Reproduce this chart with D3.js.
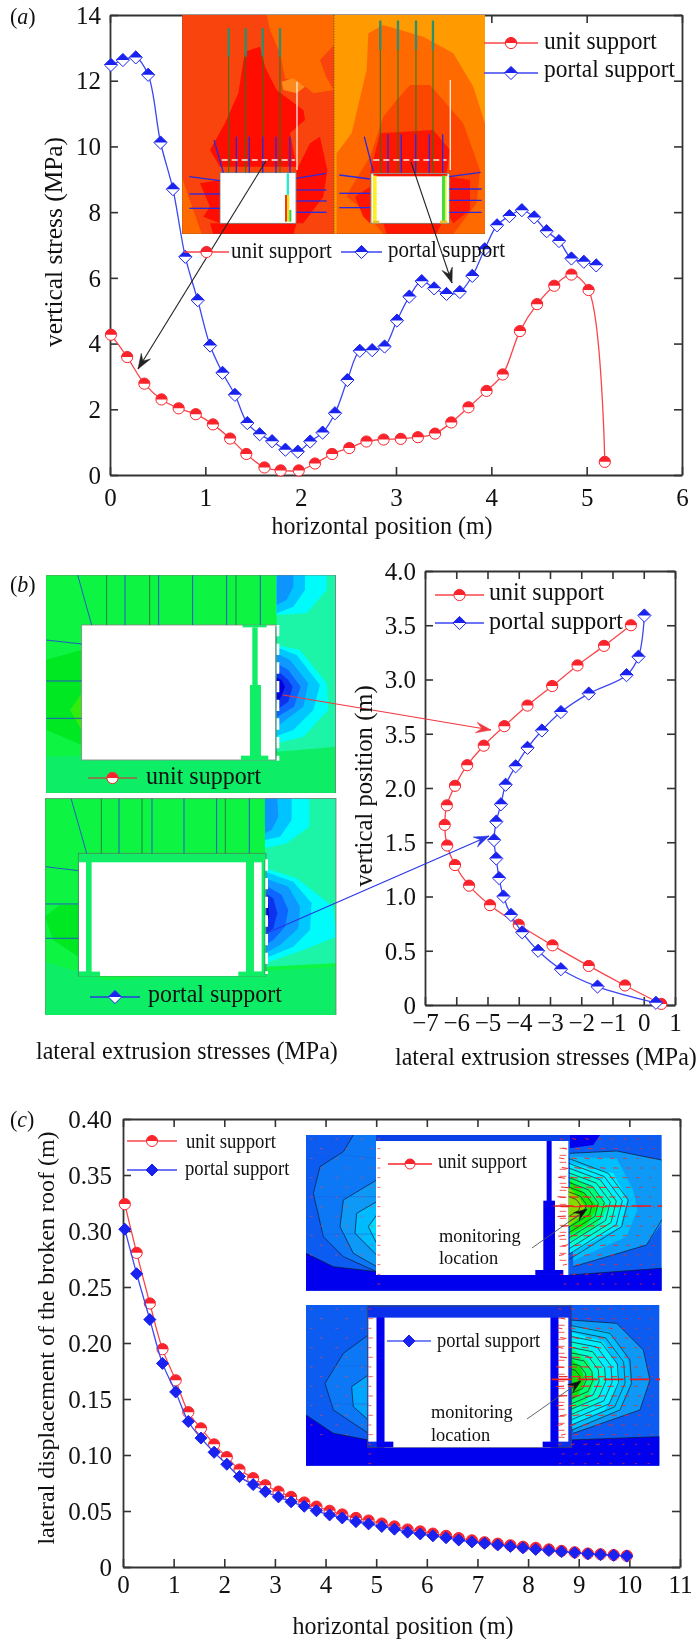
<!DOCTYPE html>
<html><head><meta charset="utf-8">
<script src="https://cdn.jsdelivr.net/npm/d3@7"></script>
<style>html,body{margin:0;padding:0;background:#fff}svg{display:block;filter:blur(0.35px)}text{font-family:"Liberation Serif",serif;fill:#111}</style>
</head><body><svg id="c" width="697" height="1639"></svg>
<script>
// ---------- data ----------
const aUnitX=[0.01,0.18,0.36,0.54,0.72,0.90,1.08,1.26,1.43,1.62,1.79,1.98,2.15,2.33,2.51,2.69,2.87,3.05,3.23,3.41,3.58,3.76,3.95,4.12,4.30,4.48,4.66,4.84,5.02,5.19];
const aUnitY=[4.27,3.59,2.78,2.30,2.03,1.85,1.54,1.11,0.64,0.23,0.14,0.14,0.35,0.64,0.82,1.02,1.08,1.10,1.15,1.26,1.60,2.06,2.56,3.06,4.38,5.20,5.76,6.10,5.63,0.40];
const aPortalX=[0.01,0.135,0.27,0.40,0.53,0.66,0.79,0.92,1.05,1.18,1.31,1.44,1.57,1.70,1.84,1.97,2.10,2.23,2.36,2.49,2.62,2.75,2.88,3.01,3.14,3.27,3.40,3.53,3.67,3.80,3.93,4.06,4.19,4.32,4.45,4.58,4.71,4.84,4.97,5.10];
const aPortalY=[12.48,12.63,12.71,12.18,10.12,8.70,6.64,5.32,3.94,3.11,2.44,1.58,1.24,1.03,0.77,0.71,1.02,1.29,1.88,2.89,3.78,3.80,3.91,4.70,5.43,5.90,5.68,5.51,5.57,6.06,6.87,7.60,7.88,8.06,7.84,7.42,7.12,6.59,6.49,6.38];
const bUnitX=[0.56,-0.60,-1.76,-2.92,-4.0,-4.92,-5.59,-6.04,-6.29,-6.37,-6.30,-6.04,-5.65,-5.12,-4.46,-3.72,-2.93,-2.12,-1.27,-0.41];
const bUnitY=[0.01,0.18,0.36,0.55,0.74,0.92,1.10,1.29,1.47,1.66,1.84,2.02,2.21,2.39,2.57,2.76,2.94,3.13,3.31,3.50];
const bPortalX=[0.39,-1.48,-2.65,-3.38,-3.89,-4.25,-4.49,-4.63,-4.72,-4.79,-4.72,-4.57,-4.42,-4.10,-3.72,-3.26,-2.65,-1.76,-0.55,-0.17,0.02];
const bPortalY=[0.02,0.17,0.33,0.50,0.67,0.83,1.00,1.17,1.35,1.52,1.69,1.85,2.03,2.20,2.37,2.53,2.70,2.87,3.04,3.21,3.59];
const cX=[0.035,0.27,0.53,0.78,1.04,1.29,1.54,1.80,2.05,2.30,2.57,2.81,3.07,3.32,3.58,3.82,4.08,4.33,4.60,4.85,5.11,5.36,5.62,5.87,6.12,6.38,6.63,6.89,7.14,7.40,7.65,7.90,8.15,8.41,8.66,8.92,9.18,9.43,9.69,9.95];
const cUnitY=[.324,.2805,.2353,.1945,.1667,.1382,.1238,.1095,.0981,.0870,.0793,.0730,.0673,.0626,.0576,.0539,.0502,.0469,.0438,.0415,.0388,.0362,.0335,.0318,.0298,.0278,.0258,.0238,.0221,.0208,.0194,.0181,.0171,.0157,.0144,.0131,.0120,.0114,.0107,.0100];
const cPortalY=[.3016,.2618,.2209,.1818,.1563,.1299,.1151,.1024,.0917,.0807,.0736,.0673,.0626,.0582,.0542,.0502,.0465,.0438,.0405,.0385,.0362,.0338,.0311,.0295,.0278,.0261,.0241,.0224,.0211,.0197,.0184,.0171,.0157,.0147,.0137,.0127,.0117,.0110,.0104,.0097];
const seriesNames=["unit support","portal support"];
const aXTicks=[0,1,2,3,4,5,6];
const aYTicks=[0,2,4,6,8,10,12,14];
const bXTicks=[-7,-6,-5,-4,-3,-2,-1,0,1];
const bYTicks=[0,0.5,1,1.5,2,2.5,3,3.5,4];
const bYTickLabels=["0","0.5","1.0","1.5","2.0","3.5","3.0","3.5","4.0"];
const cXTicks=[0,1,2,3,4,5,6,7,8,9,10,11];
const cYTicks=[0,0.05,0.1,0.15,0.2,0.25,0.3,0.35,0.4];
const cYTickLabels=["0","0.05","0.10","0.15","0.20","0.25","0.30","0.35","0.40"];

const RED="#f8232b",BLUE="#1a22f0",REDL="#f9454a",BLUEL="#3c46f2";
const SY=1.08;
const svg=d3.select("#c");
const defs=svg.append("defs");
defs.append("filter").attr("id","soft").attr("x","-5%").attr("y","-5%").attr("width","110%").attr("height","110%")
  .append("feGaussianBlur").attr("stdDeviation",0.9);
function clip(id,x,y,w,h){defs.append("clipPath").attr("id",id).append("rect").attr("x",x).attr("y",y).attr("width",w).attr("height",h);}
const line=d3.line().curve(d3.curveCatmullRom.alpha(0.5));

function T(s,x,y,size,opt={}){
  const t=(opt.g||svg).append("text").attr("x",x).attr("y",y).attr("font-size",size).text(s);
  if(opt.anchor)t.attr("text-anchor",opt.anchor);
  if(opt.rot)t.attr("transform",`rotate(-90 ${x} ${y})`);
  else t.attr("transform",`translate(${x},${y}) scale(1,${SY}) translate(${-x},${-y})`);
  return t;
}
function tag(letter,x,y){
  const t=svg.append("text").attr("x",x).attr("y",y).attr("font-size",22)
    .attr("transform",`translate(${x},${y}) scale(1,${SY}) translate(${-x},${-y})`);
  t.append("tspan").text("(");t.append("tspan").attr("font-style","italic").text(letter);t.append("tspan").text(")");
}
function mark(g,x,y,kind,color,o={}){
  const r=o.r||(kind=="c"?5.6:6.6);
  if(kind=="c"){
    g.append("circle").attr("cx",x).attr("cy",y).attr("r",r).attr("fill",o.bg||"#fff").attr("stroke",color).attr("stroke-width",1);
    g.append("path").attr("transform",`translate(${x},${y})`).attr("fill",color)
      .attr("d",d3.arc()({innerRadius:0,outerRadius:r,startAngle:-Math.PI/2,endAngle:Math.PI/2}));
  }else{
    g.append("path").attr("transform",`translate(${x},${y})`).attr("fill",o.solid?color:(o.bg||"#fff")).attr("stroke",color).attr("stroke-width",1)
      .attr("d",`M0,${-r}L${r},0L0,${r}L${-r},0Z`);
    g.append("path").attr("transform",`translate(${x},${y})`).attr("fill",color).attr("d",`M0,${-r}L${r},0L${-r},0Z`);
  }
}
function legend(g,x1,x2,y,kind,color,label,tx,ty,size,o={}){
  g.append("line").attr("x1",x1).attr("x2",x2).attr("y1",y).attr("y2",y).attr("stroke",o.lc||color).attr("stroke-width",1.3);
  mark(g,(x1+x2)/2,y,kind,color,o);
  T(label,tx,ty,size,{g});
}
function arrow(g,x1,y1,x2,y2,color,w=1.1,head=color,L=15){
  g.append("line").attr("x1",x1).attr("y1",y1).attr("x2",x2).attr("y2",y2).attr("stroke",color).attr("stroke-width",w);
  const a=Math.atan2(y2-y1,x2-x1)*180/Math.PI;
  g.append("path").attr("transform",`translate(${x2},${y2}) rotate(${a})`).attr("fill",head).attr("stroke",head).attr("stroke-width",.5)
    .attr("d",`M0,0L${-L},${-L*.36}L${-L*.62},0L${-L},${L*.36}Z`);
}
function frame(x,y,xTicks,yTicks,xFmt,yFmt,tl,yLabelX,xLabelY){
  const [x0,x1]=x.range(),[y0,y1]=y.range();
  const style=g=>{g.selectAll(".domain").attr("stroke","#333").attr("stroke-width",1.8);
    g.selectAll(".tick line").attr("stroke","#333").attr("stroke-width",1.6);};
  const ax=svg.append("g");
  const B=ax.append("g").attr("transform",`translate(0,${y0})`).call(d3.axisBottom(x).tickValues(xTicks).tickSizeInner(-tl).tickSizeOuter(0).tickFormat(xFmt)).call(style);
  ax.append("g").attr("transform",`translate(0,${y1})`).call(d3.axisTop(x).tickValues(xTicks).tickSizeInner(-tl).tickSizeOuter(0).tickFormat("")).call(style);
  const L=ax.append("g").attr("transform",`translate(${x0},0)`).call(d3.axisLeft(y).tickValues(yTicks).tickSizeInner(-tl).tickSizeOuter(0).tickFormat(yFmt)).call(style);
  ax.append("g").attr("transform",`translate(${x1},0)`).call(d3.axisRight(y).tickValues(yTicks).tickSizeInner(-tl).tickSizeOuter(0).tickFormat("")).call(style);
  B.selectAll("text").attr("y",xLabelY-y0).attr("dy",null).attr("font-size",25).attr("text-anchor","middle");
  L.selectAll("text").attr("x",yLabelX-x0).attr("dy","0.33em").attr("font-size",25).attr("text-anchor","end");
  ax.selectAll("g").attr("font-family",null).attr("font-size",null);
}
function series(X,Y,x,y,color,lc,kind,o={}){
  const g=svg.append("g");
  const pts=X.map((d,i)=>[x(d),y(Y[i])]);
  g.append("path").attr("d",line(pts)).attr("fill","none").attr("stroke",lc).attr("stroke-width",1.3);
  pts.forEach(p=>mark(g,p[0],p[1],kind,color,o));
}
function polys(g,list){
  list.forEach(([fill,d,stroke,sw])=>g.append("path").attr("d",d).attr("fill",fill).attr("stroke",stroke||"none").attr("stroke-width",sw||0));
}
function rects(g,list){list.forEach(([x,y,w,h,f,s])=>g.append("rect").attr("x",x).attr("y",y).attr("width",w).attr("height",h).attr("fill",f).attr("stroke",s||"none").attr("stroke-width",s?2.5:0));}
function segs(g,list,color,w,dash){list.forEach(([a,b,c,d])=>{const l=g.append("line").attr("x1",a).attr("y1",b).attr("x2",c).attr("y2",d).attr("stroke",color).attr("stroke-width",w);if(dash)l.attr("stroke-dasharray",dash);});}

// ================= PANEL A =================
const ax=d3.scaleLinear().domain([0,6]).range([110,682]);
const ay=d3.scaleLinear().domain([0,14]).range([475,15]);
frame(ax,ay,aXTicks,aYTicks,d=>d,d=>d,8,101,506);
clip("ia",182,15,303,219);
const ia=svg.append("g").attr("clip-path","url(#ia)").append("g").attr("transform","translate(170,10) scale(0.3333)");
const iaColor=ia.append("g").attr("filter","url(#soft)");
rects(iaColor,[[35,15,457,657,"#f9440a"],[492,15,453,657,"#ff9a00"]]);
polys(iaColor,[
 ["#ff6a00","M290,15L492,15L492,105L450,150L468,200L492,240L430,250L400,225L345,205L330,130L300,60Z"],
 ["#ff6a00","M285,170L320,240L400,300L345,270L300,230Z"],
 ["#ff6a00","M35,500L70,600L95,672L35,672Z"],
 ["#ff0c00","M225,125L270,110L285,170L320,240L400,300L405,330L360,370L380,470L150,470L120,420L165,340L205,250Z"],
 ["#ff0c00","M420,400L450,380L472,480L460,560L400,640L380,640L380,480Z"],
 ["#ff0c00","M90,520L150,510L150,640L100,620L120,590Z"],
 ["#ff0c00","M120,640L380,640L370,672L130,672Z"],
 ["#ff8a1a","M335,215L370,205L405,230L380,250L340,240Z"],
 ["#ff6a00","M595,70L640,45L760,80L850,130L910,230L945,340L945,672L500,672L500,430L545,370L590,180Z"],
 ["#fc4706","M720,225L780,225L880,340L930,480L920,580L850,672L640,672L580,600L530,560L545,530L600,440L640,320L680,270Z"],
 ["#ff1400","M630,370L790,360L840,420L830,490L600,490Z"],
 ["#ff1400","M840,500L900,510L900,600L850,640L838,620Z"],
 ["#ff1400","M555,560L600,530L600,640L580,620Z"],
 ["#ff1400","M640,640L815,640L800,672L650,672Z"]
]);
const iaLines=ia.append("g");
rects(iaLines,[[150,488,228,152,"#fff","#777"],[603,490,235,150,"#fff","#777"],
 [350,490,7,75,"#27e8d0"],[345,555,6,80,"#ee3a10"],[351,555,7,80,"#e8e020"],[358,600,6,35,"#30d040"],
 [610,492,222,7,"#ff1400"],[609,497,11,138,"#ffee20"],[816,497,10,138,"#40e040"],[826,497,4,138,"#f0f020"],[608,632,20,8,"#e8c030"],[810,632,22,8,"#e8c030"]]);
segs(iaLines,[[176,55,176,488],[227,55,227,488],[278,55,278,488],[330,55,330,488],[631,32,631,488],[684,32,684,488],[738,32,738,488],[789,32,789,488]],"#1f7a1f",3);
segs(iaLines,[[176,55,176,140],[227,55,227,140],[278,55,278,140],[330,55,330,140],[631,32,631,120],[684,32,684,120],[738,32,738,120],[789,32,789,120]],"#2c8f6e",7);
segs(iaLines,[[199,380,199,488],[238,380,238,488],[278,380,278,488],[318,380,318,488],[360,380,360,488],[132,390,160,488],[58,500,150,512],[58,552,150,552],[58,595,150,595],[380,505,468,490],[380,540,470,540],[380,573,470,573],[380,607,470,607],
 [654,373,654,488],[694,373,694,488],[737,373,737,488],[778,373,778,488],[818,373,818,488],[583,380,610,485],[508,495,600,507],[508,550,600,550],[508,593,600,593],[838,500,932,487],[838,537,935,537],[838,571,935,571],[838,607,935,607]],"#2a2ae0",4);
segs(iaLines,[[155,450,375,450],[610,450,830,450]],"#f4f4f4",4,"18 12");
segs(iaLines,[[381,215,381,480],[841,210,841,480]],"#ffe8e0",4);
segs(iaLines,[[36,15,36,672],[492,15,492,672],[36,672,945,672]],"#553",2.5,"4 4");
series(aUnitX,aUnitY,ax,ay,RED,REDL,"c");
series(aPortalX,aPortalY,ax,ay,BLUE,BLUEL,"d");
const aAnn=svg.append("g");
arrow(aAnn,266,161,138,369,"#222");
arrow(aAnn,411,162,452,283,"#222");
legend(aAnn,484,538,43,"c",RED,seriesNames[0],544,49,23.5,{lc:REDL});
legend(aAnn,484,538,73,"d",BLUE,seriesNames[1],544,77,23.5,{lc:BLUEL});
legend(aAnn,184,229,252,"c",RED,seriesNames[0],231,258,21,{lc:REDL});
legend(aAnn,341,382,252,"d",BLUE,seriesNames[1],388,257,21,{lc:BLUEL});
T("vertical stress (MPa)",62,242,25.4,{rot:true,anchor:"middle"});
T("horizontal position (m)",382,534,24,{anchor:"middle"});
tag("a",10,24);

// ================= PANEL B insets =================
clip("ib1",46,575,290,218);clip("ib2",45,798,296,217);
const b1=svg.append("g").attr("clip-path","url(#ib1)").append("g").attr("transform","translate(40,570) scale(0.3333)");
const b1c=b1.append("g").attr("filter","url(#soft)");
rects(b1c,[[17,15,870,655,"#08f542"]]);
polys(b1c,[
 ["#10ee66","M17,560L720,545L887,520L887,670L17,670Z"],
 ["#1cf5a8","M710,15L887,15L887,530L710,545Z"],
 ["#00e820","M17,270L125,240L125,525L20,480Z"],
 ["#33ec10","M90,420L125,370L125,480Z"],
 ["#00fbfb","M710,15L860,15L860,60L800,130L710,135Z"],
 ["#00c4ff","M710,15L795,15L795,60L760,110L710,130Z"],
 ["#0f95ff","M710,15L760,15L760,50L740,90L710,105Z"],
 ["#00fbfb","M710,225L780,240L860,340L865,420L790,500L710,520Z"],
 ["#00c8ff","M710,232L770,255L840,345L820,420L760,480L710,498Z"],
 ["#0a99ff","M710,250L750,270L805,340L790,410L710,470Z"],
 ["#0a66ff","M710,280L745,300L782,350L762,410L710,442Z"],
 ["#0a33ee","M710,300L745,330L758,350L745,395L710,420Z"],
 ["#0000e0","M706,320L725,330L735,350L715,400L706,400Z"]
]);
const b1l=b1.append("g");
rects(b1l,[[125,165,583,405,"#fff","#888"],[637,172,16,175,"#10ee66"],[630,345,33,215,"#10ee66"],[603,557,82,13,"#10ee66"],[608,165,72,7,"#10ee66"]]);
segs(b1l,[[200,15,200,165],[329,15,329,165],[588,15,588,165]],"#1f6e3c",2.5);
segs(b1l,[[113,15,155,165],[255,15,255,165],[356,15,356,165],[458,15,458,165],[560,15,560,165],[661,15,661,165],[17,210,125,222],[17,333,125,333],[17,445,125,445]],"#2a3ae0",2.5);
segs(b1l,[[708,170,708,570]],"#386",3);
segs(b1l,[[714,165,714,572]],"#fff",8,"34 22");
rects(b1l,[[17,15,870,655,"none","#777"]]);

const b2=svg.append("g").attr("clip-path","url(#ib2)").append("g").attr("transform","translate(40,570) scale(0.3333)");
const b2c=b2.append("g").attr("filter","url(#soft)");
rects(b2c,[[15,685,873,652,"#08f542"]]);
polys(b2c,[
 ["#10ee66","M15,1175L200,1230L888,1190L888,1337L15,1337Z"],
 ["#1cf5a8","M675,685L888,685L888,1180L675,1190Z"],
 ["#00e820","M15,1040L60,1005L115,1005L115,1160L40,1110Z"],
 ["#00fbfb","M675,685L808,685L808,770L740,820L675,835Z"],
 ["#00c4ff","M675,685L755,685L755,750L720,800L675,810Z"],
 ["#0f95ff","M675,685L712,685L715,740L695,780L675,790Z"],
 ["#00fbfb","M675,895L770,925L880,1010L888,1100L790,1140L675,1180Z"],
 ["#00c8ff","M675,905L760,935L815,1000L810,1080L760,1130L675,1165Z"],
 ["#0a99ff","M675,925L745,950L780,1010L775,1075L720,1125L675,1150Z"],
 ["#0a66ff","M675,945L725,975L745,1020L735,1070L700,1110L675,1125Z"],
 ["#0a33ee","M668,965L700,985L712,1030L700,1075L668,1100Z"],
 ["#0000e0","M668,985L685,1000L688,1040L675,1075L668,1080Z"]
]);
const b2l=b2.append("g");
rects(b2l,[[115,850,563,368,"#10ee66","#4a8a5a"],[155,877,463,341,"#fff"],[117,877,21,328,"#fff"],[642,877,23,328,"#fff"],[117,1205,63,13,"#10ee66"],[595,1205,83,13,"#10ee66"]]);
segs(b2l,[[184,685,184,850],[306,685,306,850],[556,685,556,850]],"#1f6e3c",2.5);
segs(b2l,[[93,685,140,850],[237,685,237,850],[336,685,336,850],[432,685,432,850],[530,685,530,850],[628,685,628,850],[15,890,115,902],[15,1002,115,1002],[15,1105,115,1105]],"#2a3ae0",2.5);
segs(b2l,[[674,870,674,1215]],"#3a7",3);
segs(b2l,[[680,868,680,1212]],"#fff",8,"34 22");
rects(b2l,[[15,685,873,652,"none","#777"]]);

// ================= PANEL B =================
const bx=d3.scaleLinear().domain([-7,1]).range([425,675]);
const by=d3.scaleLinear().domain([0,4]).range([1005,571]);
const fmtMinus=d=>d<0?"\u2212"+(-d):String(d);
frame(bx,by,bXTicks,bYTicks,fmtMinus,(d,i)=>bYTickLabels[i],8,416,1031);
series(bUnitX,bUnitY,bx,by,RED,REDL,"c");
series(bPortalX,bPortalY,bx,by,BLUE,BLUEL,"d");
const bAnn=svg.append("g");
arrow(bAnn,283,695,491,730,"#f03840",1.2);
arrow(bAnn,267,933,489,836,"#2a36e8",1.2);
legend(bAnn,435,484,595,"c",RED,seriesNames[0],489,600,24,{lc:REDL});
legend(bAnn,435,484,623,"d",BLUE,seriesNames[1],489,629,24,{lc:BLUEL});
legend(bAnn,88,137,778,"c",RED,seriesNames[0],146,784,24,{lc:"#a5604a",bg:"#fff"});
legend(bAnn,90,140,997,"d",BLUE,seriesNames[1],148,1002,24,{lc:"#2a3ae0",bg:"#fff"});
T("vertical position (m)",372,786,24.7,{rot:true,anchor:"middle"});
T("lateral extrusion stresses (MPa)",36,1059,24);
T("lateral extrusion stresses (MPa)",395,1065,24);
tag("b",10,592);

// ================= PANEL C =================
const cx=d3.scaleLinear().domain([0,11]).range([123,680]);
const cy=d3.scaleLinear().domain([0,0.4]).range([1567,1119]);
frame(cx,cy,cXTicks,cYTicks,d=>d,(d,i)=>cYTickLabels[i],8,112,1593);
clip("ic1",306,1135,356,156);clip("ic2",306,1305,354,161);
const contourLine=d3.line();
function insetC(clipId,c){
  const root=svg.append("g").attr("clip-path",`url(#${clipId})`).append("g").attr("transform","translate(300,1090) scale(0.3333)");
  const g=root.append("g").attr("filter","url(#soft)");
  rects(g,[[18,c.top,c.w,c.h,"#0a5cf2"]]);
  polys(g,c.bands);
  const l=root.append("g");
  polys(l,c.contours.map(d=>["none",d,"#0a1c3c",2.2]));
  d3.range(0.2,1.01,0.1).forEach(f=>{
    l.append("path").attr("d",contourLine(c.ring.map(([a,b])=>[c.gapX+20+(a-c.gapX-20)*f,c.cy+(b-c.cy)*f]))).attr("fill","none").attr("stroke","#0a2a30").attr("stroke-width",2.2);
  });
  rects(l,c.rooms);
  segs(l,c.faint,"#1a60e0",1.5);
  const vec=root.append("g");
  d3.range(c.top+12,c.top+c.h,29).forEach((yy,i)=>{
    d3.range(c.gapX+(i%2?10:0),18+c.w,38).forEach(xx=>{
      const dx=xx-c.cx,dy=yy-c.cy,dist=Math.hypot(dx,dy/1.1);
      const len=Math.max(7,30-dist/10),ang=Math.atan2(dy,dx+200)*50/Math.PI;
      vec.append("line").attr("x1",xx-len/2).attr("x2",xx+len/2).attr("y1",yy).attr("y2",yy)
        .attr("transform",`rotate(${-ang} ${xx} ${yy})`).attr("stroke","#f02828").attr("stroke-width",Math.max(2,3.8-dist/120));
    });
    if(yy<c.bandTop)d3.range(30,c.leftX,76).forEach(xx=>vec.append("line").attr("x1",xx+(i%2)*30).attr("x2",xx+(i%2)*30+8).attr("y1",yy).attr("y2",yy).attr("stroke","#f04848").attr("stroke-width",1.8));
    vec.append("line").attr("x1",c.leftX).attr("x2",c.leftX+9).attr("y1",yy).attr("y2",yy).attr("stroke","#f03030").attr("stroke-width",2.2);
  });
  d3.range(c.top+40,c.top+c.h-70,21).forEach(yy=>{
    vec.append("line").attr("x1",c.gapX-6).attr("x2",c.gapX+14).attr("y1",yy).attr("y2",yy).attr("stroke","#f02020").attr("stroke-width",2.2);
  });
  segs(vec,[[c.gapX-25,c.cy,1100,c.cy]],"#f01818",5,"60 18");
  return root;
}
insetC("ic1",{top:135,w:1067,h:467,cx:830,cy:348,gapX:785,leftX:232,bandTop:520,
 ring:[[805,205],[925,250],[985,330],[965,410],[805,510]],
 bands:[
  ["#0a78f5","M160,135L130,185L60,230L40,310L70,440L130,500L230,545L230,135Z"],
  ["#0a99f5","M230,270L130,330L120,410L160,490L230,530Z"],
  ["#00bbff","M230,335L170,370L165,430L230,495Z"],
  ["#00ddff","M230,375L205,410L230,460Z"],
  ["#0000ee","M18,490L100,530L230,545L810,555L1085,535L1085,602L18,602Z"],
  ["#0000ee","M810,135L900,135L880,165L810,175Z"],
  ["#0a99f5","M810,190L950,183L1085,210L1085,400L1040,465L820,530Z"],
  ["#00bfff","M810,200L950,205L1000,300L1012,360L980,440L820,512Z"],
  ["#00eeff","M810,220L940,250L982,330L962,410L810,490Z"],
  ["#00ffd0","M810,240L900,270L958,340L925,420L810,470Z"],
  ["#00ff70","M810,255L880,295L925,350L885,415L810,452Z"],
  ["#10ee10","M810,270L860,315L895,350L860,405L810,435Z"],
  ["#88d800","M805,290L838,325L855,350L835,385L805,410Z"]],
 contours:[
  "M160,135L130,185L60,230L40,310L70,440L130,500L230,545",
  "M230,270L130,330L120,410L160,490L230,530",
  "M230,335L170,370L165,430L230,495","M230,375L205,410L230,460",
  "M18,490L100,530L230,545","M810,555L1085,535",
  "M810,190L950,183L1085,210","M1085,390L1040,465L820,530"],
 rooms:[[228,153,577,402,"#fff"],[740,153,15,180,"#0000ee"],[730,332,35,210,"#0000ee"],[706,540,84,15,"#0000ee"],[228,135,582,18,"#0a40e8"]],
 faint:[[18,185,228,205],[18,320,228,320],[18,432,228,432]]});
insetC("ic2",{top:645,w:1060,h:482,cx:830,cy:868,gapX:780,leftX:205,bandTop:1040,
 ring:[[805,705],[930,730],[990,810],[995,880],[960,960],[805,1025]],
 bands:[
  ["#0a78f5","M205,735L130,790L75,880L100,960L205,1030Z"],
  ["#00a5ff","M205,855L155,890L160,950L205,990Z"],
  ["#0000ee","M18,975L100,1030L205,1050L815,1050L1078,1040L1078,1127L18,1127Z"],
  ["#0a99f5","M810,690L950,700L1030,780L1050,870L1020,960L820,1030Z"],
  ["#00bfff","M810,705L930,725L985,810L992,880L960,960L810,1020Z"],
  ["#00eeff","M810,725L910,755L955,830L958,880L915,960L810,1005Z"],
  ["#00ffd0","M810,745L885,785L920,860L890,940L810,985Z"],
  ["#00ff70","M810,770L865,815L888,870L860,930L810,965Z"],
  ["#10e010","M805,800L842,830L855,870L835,915L805,940Z"]],
 contours:[
  "M205,735L130,790L75,880L100,960L205,1030","M205,855L155,890L160,950L205,990",
  "M18,975L100,1030L205,1050","M810,1050L1078,1040",
  "M810,690L950,700L1030,780L1050,870L1020,960L820,1030"],
 rooms:[[203,648,612,424,"#0a30ec","#445"],[253,683,499,389,"#fff"],[205,683,25,372,"#fff"],[775,683,30,372,"#fff"],[230,683,23,372,"#0000ee"],[752,683,23,372,"#0000ee"],[230,1055,50,17,"#0000ee"],[728,1055,47,17,"#0000ee"]],
 faint:[[18,685,205,705],[18,828,205,828],[18,942,205,942]]});
const cAnn=svg.append("g");
arrow(cAnn,532,1248,587,1209,"#555",.9,"#111",13);
arrow(cAnn,527,1419,581,1381,"#555",.9,"#111",13);
legend(cAnn,388,432,1164,"c",RED,seriesNames[0],438,1168,18.5,{r:5});
legend(cAnn,387,431,1341,"d",BLUE,seriesNames[1],437,1347,18.5,{lc:"#4a5cf0",solid:true,r:6});
T("monitoring",439,1242,18.4,{g:cAnn});T("location",439,1264,18.4,{g:cAnn});
T("monitoring",431,1418,18.4,{g:cAnn});T("location",431,1441,18.4,{g:cAnn});
series(cX,cUnitY,cx,cy,RED,REDL,"c");
series(cX,cPortalY,cx,cy,BLUE,BLUEL,"d",{solid:true,r:6});
legend(cAnn,127,177,1141,"c",RED,seriesNames[0],186,1148,18.7,{r:5.5,lc:REDL});
legend(cAnn,127,177,1170,"d",BLUE,seriesNames[1],185,1175,18.7,{lc:BLUEL,solid:true,r:6});
T("lateral displacement of the broken roof (m)",54,1338,24,{rot:true,anchor:"middle"});
T("horizontal position (m)",403,1634,24,{anchor:"middle"});
tag("c",10,1127);
</script></body></html>
